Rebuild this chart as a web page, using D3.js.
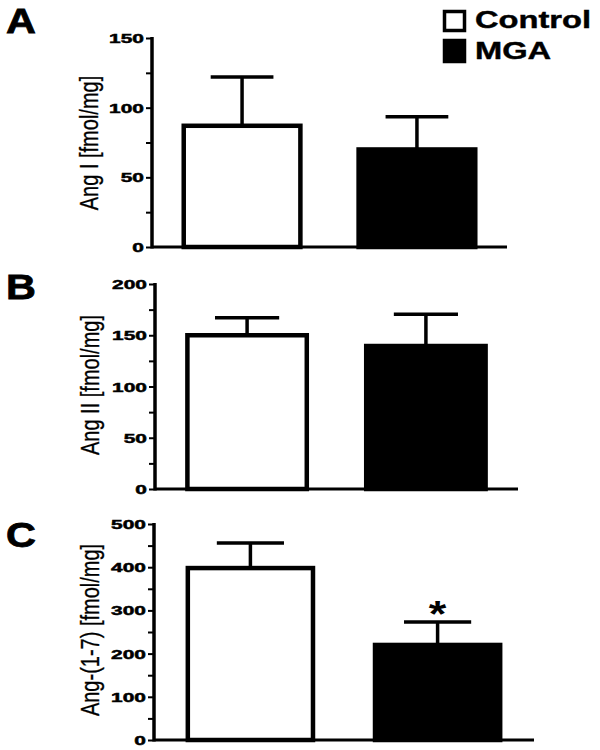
<!DOCTYPE html>
<html>
<head>
<meta charset="utf-8">
<script src="https://cdn.jsdelivr.net/npm/d3@7"></script>
<style>
  html, body { margin: 0; padding: 0; background: #fff; }
  svg { display: block; }
  text { font-family: "Liberation Sans", Arial, sans-serif; fill: #000; }
</style>
</head>
<body>
<svg id="chart" width="600" height="750"></svg>
<script>
// ---- data ----
const groups = ["Control", "MGA"];
const panelLetters = ["A", "B", "C"];
const yLabels = ["Ang I [fmol/mg]", "Ang II [fmol/mg]", "Ang-(1-7) [fmol/mg]"];
const meansA = [87, 70];
const errorsA = [35, 23.5];
const meansB = [150, 139.5];
const errorsB = [17, 31];
const meansC = [398, 220];
const errorsC = [58, 53];
const yMaxes = [150, 200, 500];
const labelTickSteps = [50, 50, 100];
const minorTickSteps = [25, 25, 50];
const significance = [["", ""], ["", ""], ["", "*"]];

// ---- layout (positions only) ----
const layout = [
  { x0: 152, x1: 507, yTop: 38,  yBot: 247, letterY: 33,  labelX: 89, labelY: 143 },
  { x0: 155, x1: 518, yTop: 284, yBot: 489, letterY: 299, labelX: 90, labelY: 385 },
  { x0: 154, x1: 534, yTop: 524, yBot: 740, letterY: 547, labelX: 90, labelY: 630 }
];
const meansAll = [meansA, meansB, meansC];
const errorsAll = [errorsA, errorsB, errorsC];
const fills = ["#ffffff", "#000000"];

const svg = d3.select("#chart");

layout.forEach((L, i) => {
  const g = svg.append("g");
  const x = d3.scaleBand().domain(groups).range([L.x0, L.x1]).paddingInner(0.31).paddingOuter(0.17);
  const y = d3.scaleLinear().domain([0, yMaxes[i]]).range([L.yBot, L.yTop]);

  const data = groups.map((k, j) => ({ k, m: meansAll[i][j], e: errorsAll[i][j], s: significance[i][j], fill: fills[j] }));

  // error bars (upper only)
  const eb = g.append("g");
  data.forEach(d => {
    const cx = x(d.k) + x.bandwidth() / 2;
    const capW = x.bandwidth() * 0.52;
    eb.append("line").attr("x1", cx).attr("x2", cx).attr("y1", y(d.m)).attr("y2", y(d.m + d.e))
      .attr("stroke", "#000").attr("stroke-width", 3.5);
    eb.append("line").attr("x1", cx - capW / 2).attr("x2", cx + capW / 2).attr("y1", y(d.m + d.e)).attr("y2", y(d.m + d.e))
      .attr("stroke", "#000").attr("stroke-width", 3.5);
    if (d.s) {
      g.append("text").attr("transform", `translate(${cx},${y(d.m + d.e) + 5}) scale(1.25,1)`)
        .attr("text-anchor", "middle").attr("font-size", 36).attr("font-weight", "bold").text(d.s);
    }
  });

  // bars
  g.selectAll("rect.bar").data(data).enter().append("rect")
    .attr("class", "bar")
    .attr("x", d => x(d.k) + 2)
    .attr("width", x.bandwidth() - 4)
    .attr("y", d => y(d.m))
    .attr("height", d => y(0) - y(d.m))
    .attr("fill", d => d.fill)
    .attr("stroke", "#000")
    .attr("stroke-width", 4.5);

  // x axis baseline
  g.append("line").attr("x1", L.x0).attr("x2", L.x1).attr("y1", y(0)).attr("y2", y(0))
    .attr("stroke", "#000").attr("stroke-width", 3);

  // y axis: minor ticks
  const minorTicks = d3.range(0, yMaxes[i] + 0.001, minorTickSteps[i]);
  const yAxisMinor = d3.axisLeft(y).tickValues(minorTicks).tickSize(6).tickFormat("");
  const gm = g.append("g").attr("transform", `translate(${L.x0},0)`).call(yAxisMinor);
  gm.select(".domain").attr("stroke", "#000").attr("stroke-width", 3.5)
    .attr("d", `M0,${L.yTop - 1}V${L.yBot + 1.5}`);
  gm.selectAll(".tick line").attr("stroke", "#000").attr("stroke-width", 2);

  // y axis labels
  const labelTicks = d3.range(0, yMaxes[i] + 0.001, labelTickSteps[i]);
  labelTicks.forEach(v => {
    g.append("text")
      .attr("transform", `translate(${L.x0 - 8},${y(v) + 5}) scale(1.55,1)`)
      .attr("text-anchor", "end")
      .attr("font-size", 13.5)
      .attr("font-weight", "bold")
      .attr("stroke", "#000").attr("stroke-width", 0.5)
      .text(v);
  });

  // y title
  g.append("text")
    .attr("transform", `translate(${L.labelX},${L.labelY}) scale(1.3,1) rotate(-90)`)
    .attr("text-anchor", "middle")
    .attr("dominant-baseline", "central")
    .attr("font-size", 20)
    .attr("stroke", "#000").attr("stroke-width", 0.25)
    .text(yLabels[i]);

  // panel letter
  g.append("text")
    .attr("transform", `translate(6,${L.letterY}) scale(1.15,1)`)
    .attr("font-size", 36)
    .attr("font-weight", "bold")
    .attr("stroke", "#000").attr("stroke-width", 0.8)
    .text(panelLetters[i]);
});

// legend
const legend = svg.append("g");
const legendY = [[10, 32, 28], [39, 63, 59]];
groups.forEach((k, j) => {
  legend.append("rect")
    .attr("x", 444.5).attr("y", legendY[j][0] + 1.5)
    .attr("width", 20).attr("height", legendY[j][1] - legendY[j][0] - 3)
    .attr("fill", fills[j]).attr("stroke", "#000").attr("stroke-width", 3.5);
  legend.append("text")
    .attr("transform", `translate(475,${legendY[j][2]}) scale(1.42,1)`)
    .attr("font-size", 23)
    .attr("font-weight", "bold")
    .attr("stroke", "#000").attr("stroke-width", 0.4)
    .text(k);
});
</script>
</body>
</html>
